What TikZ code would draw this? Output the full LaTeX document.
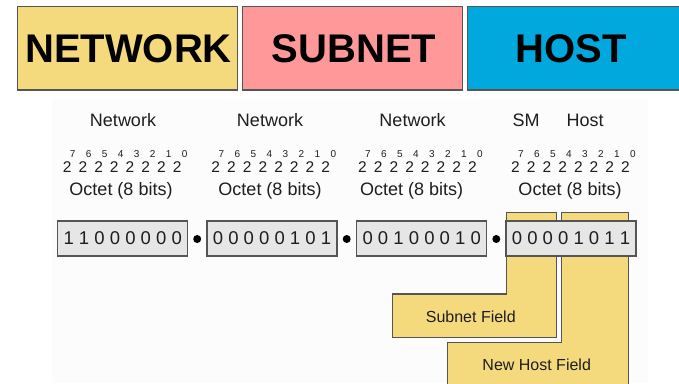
\documentclass[tikz,border=0pt]{standalone}
\usepackage{fontspec}
\setmainfont{Liberation Sans}
\definecolor{netyellow}{RGB}{245,217,125}
\definecolor{subpink}{RGB}{255,153,153}
\definecolor{hostblue}{RGB}{0,168,222}
\definecolor{edgegray}{RGB}{85,85,85}
\definecolor{octgray}{RGB}{230,230,230}
\definecolor{panelgray}{RGB}{252,252,252}
\definecolor{txtdark}{RGB}{30,30,30}
\begin{document}
\begin{tikzpicture}[x=1pt,y=-1pt,
  titlebox/.style={draw=edgegray,line width=1.2pt,inner sep=0pt,minimum width=220pt,minimum height=83.3pt},
  titletext/.style={font=\fontsize{40}{40}\selectfont\bfseries,text=black,inner sep=0pt},
  lbl/.style={font=\fontsize{18}{18}\selectfont,text=txtdark,anchor=base,inner sep=0pt},
  powtwo/.style={font=\fontsize{15.5}{15.5}\selectfont,text=txtdark,anchor=base,inner sep=0pt},
  powexp/.style={font=\fontsize{10}{10}\selectfont,text=txtdark,anchor=base,inner sep=0pt},
  octbox/.style={draw=edgegray,fill=octgray,line width=1.2pt,minimum width=130pt,minimum height=35pt,inner sep=0pt,font=\fontsize{18.5}{18.5}\selectfont,text=txtdark},
  dotnode/.style={circle,fill=black,minimum size=8pt,inner sep=0pt},
  field/.style={draw=edgegray,fill=netyellow,line width=1.2pt,line join=miter},
  fieldlbl/.style={font=\fontsize{16}{16}\selectfont,text=txtdark,inner sep=0pt}
]
\useasboundingbox (0,0) rectangle (679,383);
\fill[panelgray] (52,98) rectangle (648,383);
% title boxes
\node[titlebox,fill=netyellow] (netbox) at (127.7,48.3) {};
\node[titletext] (nettxt) at (128.5,48.5) {NETWORK};
\node[titlebox,fill=subpink] (subbox) at (352.2,48.3) {};
\node[titletext] (subtxt) at (354,48.5) {SUBNET};
\filldraw[draw=edgegray,fill=hostblue,line width=1.2pt] (467.7,6.7) rectangle (684,90);
\node[titletext] (hosttxt) at (571,48.5) {HOST};
% group labels
\node[lbl] (n1) at (123,126.5) {Network};
\node[lbl] (n2) at (270,126.5) {Network};
\node[lbl] (n3) at (412.5,126.5) {Network};
\node[lbl] (sm) at (526,126.5) {SM};
\node[lbl] (hostlbl) at (585,126.5) {Host};
% powers of two
\foreach \g/\c in {1/122.2,2/270.8,3/417.5,4/570.5}{
  \foreach \i [evaluate=\i as \p using int(7-\i)] in {0,...,7}{
    \node[powtwo] (t\g\i) at ({\c-55+15.7*\i},172) {2};
    \node[powexp] (e\g\i) at ({\c-49.5+16*\i},157.5) {\p};
  }
}
% octet labels
\node[lbl] (o1) at (121,195) {Octet (8 bits)};
\node[lbl] (o2) at (270,195) {Octet (8 bits)};
\node[lbl] (o3) at (411.7,195) {Octet (8 bits)};
\node[lbl] (o4) at (570,195) {Octet (8 bits)};
% yellow fields
\draw[field] (506.7,212.7) -- (556.7,212.7) -- (556.7,337.3) -- (392.7,337.3) -- (392.7,294) -- (506.7,294) -- cycle;
\draw[field] (561.7,212.7) -- (628.3,212.7) -- (628.3,392) -- (447.7,392) -- (447.7,342.7) -- (561.7,342.7) -- cycle;
\node[fieldlbl] (sf) at (470.8,316.7) {Subnet Field};
\node[fieldlbl] (nhf) at (536.7,365) {New Host Field};
% binary octets
\node[octbox] (b1) at (122.7,238.5) {1 1 0 0 0 0 0 0};
\node[octbox] (b2) at (272,238.5) {0 0 0 0 0 1 0 1};
\node[octbox] (b3) at (421.7,238.5) {0 0 1 0 0 0 1 0};
\node[octbox] (b4) at (571,238.5) {0 0 0 0 1 0 1 1};
\node[dotnode] (d1) at (197.2,239) {};
\node[dotnode] (d2) at (346.7,239) {};
\node[dotnode] (d3) at (496.3,239) {};
\end{tikzpicture}
\end{document}
